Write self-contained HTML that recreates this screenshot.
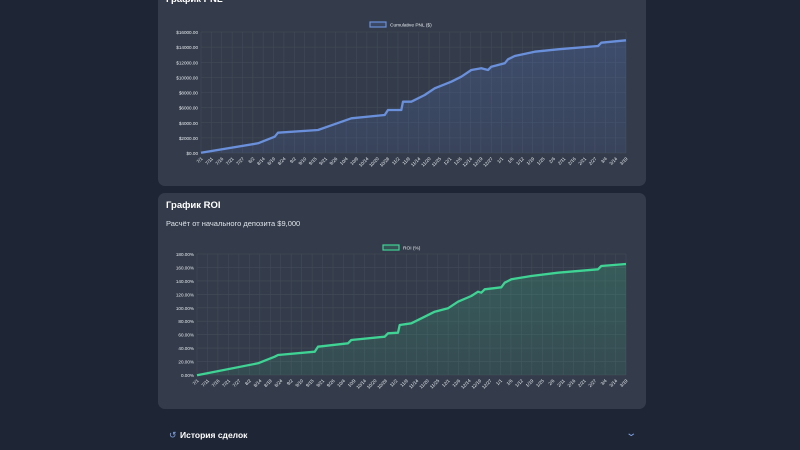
<!DOCTYPE html>
<html><head><meta charset="utf-8"><style>
html,body{margin:0;padding:0;width:800px;height:450px;overflow:hidden;background:#1e2534;font-family:"Liberation Sans","Noto Sans CJK SC",sans-serif;}
.card{position:absolute;left:158px;width:488px;background:#343c4b;border-radius:7px;}
.t{position:absolute;color:#fff;font-weight:bold;font-size:9.5px;}
.s{position:absolute;color:#dfe3ea;font-size:7.5px;}
svg{position:absolute;left:0;top:0;}
</style></head><body>
<div class="card" style="top:-10px;height:196px;"></div>
<div class="card" style="top:193px;height:216px;"></div>
<div class="t" style="left:166px;top:-6px;">График PNL</div>
<div class="t" style="left:166px;top:200px;">График ROI</div>
<div class="s" style="left:166px;top:219px;">Расчёт от начального депозита $9,000</div>
<div class="t" style="left:180px;top:430px;font-size:8.5px;">История сделок</div>
<div style="position:absolute;left:169px;top:430px;color:#7fa0e0;font-size:9px;">↺</div>
<div style="position:absolute;left:627px;top:428px;color:#7fa0e0;font-size:10px;transform:scaleX(1.4);">⌄</div>
<svg id="g" width="800" height="450" xmlns="http://www.w3.org/2000/svg">
<defs>
<linearGradient id="gb" x1="0" y1="0" x2="0" y2="1"><stop offset="0" stop-color="#5a7fcf" stop-opacity="0.25"/><stop offset="1" stop-color="#5a7fcf" stop-opacity="0.12"/></linearGradient>
<linearGradient id="gg" x1="0" y1="0" x2="0" y2="1"><stop offset="0" stop-color="#3fcf8e" stop-opacity="0.22"/><stop offset="1" stop-color="#3fcf8e" stop-opacity="0.1"/></linearGradient>
</defs>
</svg>
<script>
const ns="http://www.w3.org/2000/svg",g=document.getElementById('g');
function el(t,a,txt){const e=document.createElementNS(ns,t);for(const k in a)e.setAttribute(k,a[k]);if(txt!=null)e.textContent=txt;g.appendChild(e);return e;}
const labels="7/1 7/11 7/16 7/21 7/27 8/2 8/14 8/19 8/24 9/2 9/10 9/15 9/21 9/26 10/4 10/9 10/14 10/20 10/28 11/2 11/9 11/14 11/20 11/25 12/1 12/6 12/14 12/19 12/27 1/1 1/6 1/12 1/19 1/25 2/6 2/11 2/16 2/21 2/27 3/4 3/14 3/19".split(' ');
function chart(L,R,T,B,yl,pts,col,fill,legX,legY,legTxt){
 const n=yl.length-1;
 for(let i=0;i<=n;i++){const y=B-(B-T)*i/n;el('line',{x1:L,x2:R,y1:y,y2:y,stroke:'#434b5a','stroke-width':0.6});
  el('text',{x:L-3,y:y+2,'text-anchor':'end','font-size':4.6,fill:'#e6e9ee'},yl[i]);}
 const m=labels.length;
 for(let i=0;i<m;i++){const x=L+(R-L)*i/(m-1);el('line',{x1:x,x2:x,y1:T,y2:B,stroke:'#434b5a','stroke-width':0.6});
  el('text',{x:x+2,y:B+6,'text-anchor':'end','font-size':4.6,fill:'#e6e9ee',transform:`rotate(-45 ${x+2} ${B+6})`},labels[i]);}
 let d='M'+pts.map(p=>p.join(',')).join(' L');
 el('path',{d:d+` L${R},${B} L${L},${B} Z`,fill:fill});
 el('path',{d:d,fill:'none',stroke:col,'stroke-width':2.3,'stroke-linejoin':'round'});
 el('rect',{x:legX,y:legY,width:16,height:5,fill:fill,stroke:col,'stroke-width':1.2});
 el('text',{x:legX+20,y:legY+4.5,'font-size':4.8,fill:'#e6e9ee'},legTxt);
}
chart(201,626,32,153,['$0.00','$2000.00','$4000.00','$6000.00','$8000.00','$10000.00','$12000.00','$14000.00','$16000.00'],
[[201,152.7],[258,143.3],[274.7,136.7],[278,132.7],[318,130],[351.3,118.3],[384.7,115],[388,110],[401.3,110],[403,101.7],[411.3,101.7],[424.7,95],[434.7,88.3],[451.3,81.7],[461.3,76.7],[471.3,70],[481.3,68.3],[488,70],[491.3,66.7],[504.7,63.3],[508,59.3],[514.7,56],[534.7,51.7],[558,49.3],[598,46],[601.3,42.7],[626,40.3]],
'#6a90dc','url(#gb)',370,22,'Cumulative PNL ($)');
chart(197,626,254,375,['0.00%','20.00%','40.00%','60.00%','80.00%','100.00%','120.00%','140.00%','160.00%','180.00%'],
[[197,375.3],[258,363.3],[274.7,356.7],[278,355],[314.7,351.7],[318,346.7],[348,343.3],[351.3,340],[384.7,336.7],[388,333.3],[398,332.7],[399.7,325],[411.3,323.3],[424.7,316.7],[434.7,311.7],[448,308.3],[458,301.7],[471.3,296],[478,291.7],[481.3,292.7],[484.7,289.3],[501.3,287.3],[504.7,282.7],[511.3,279.3],[531.3,276],[558,272.7],[598,269.3],[601.3,266],[626,264]],
'#3fd394','url(#gg)',383,245,'ROI (%)');
</script>
</body></html>
